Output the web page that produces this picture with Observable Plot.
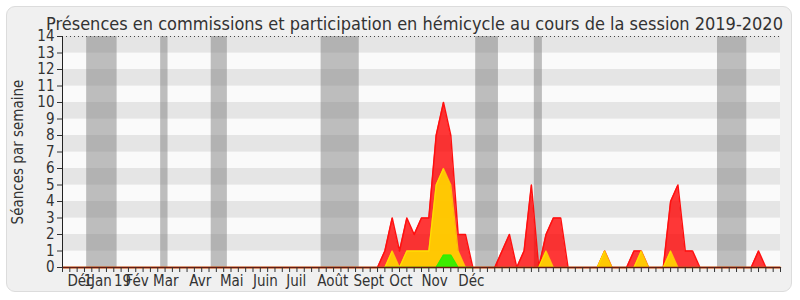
<!DOCTYPE html>
<html><head><meta charset="utf-8">
<script src="https://cdn.jsdelivr.net/npm/d3@7"></script>
<script src="https://cdn.jsdelivr.net/npm/@observablehq/plot@0.6"></script>
<style>
body{margin:0;background:#fff;}
#wrap{position:relative;width:800px;height:300px;}
#panel{position:absolute;left:6px;top:6px;width:786px;height:286px;background:#f0f0f0;border:1px solid #dcdcdc;border-radius:9px;box-sizing:border-box;}
#chart{position:absolute;left:0;top:0;}
</style></head><body>
<div id="wrap"><div id="panel"></div><div id="chart"></div></div>
<script>
const title = "Présences en commissions et participation en hémicycle au cours de la session 2019-2020";
const yLabel = "Séances par semaine";

// week index 0..98
const weeks = d3.range(0, 99);
const totalSeances = [
  0,0,0,0,0,0,0,0,0,0,
  0,0,0,0,0,0,0,0,0,0,
  0,0,0,0,0,0,0,0,0,0,
  0,0,0,0,0,0,0,0,0,0,
  0,0,0,0,1,3,1,3,2,3,
  3,8,10,8,2,2,0,0,0,0,
  1,2,0,1,5,0,2,3,3,0,
  0,0,0,0,1,0,0,0,1,1,
  0,0,0,4,5,1,1,0,0,0,
  0,0,0,0,0,1,0,0,0
];
const hemicycle = [
  0,0,0,0,0,0,0,0,0,0,
  0,0,0,0,0,0,0,0,0,0,
  0,0,0,0,0,0,0,0,0,0,
  0,0,0,0,0,0,0,0,0,0,
  0,0,0,0,0,1,0,1,1,1,
  1,5,6,5,1,0,0,0,0,0,
  0,0,0,0,0,0,1,0,0,0,
  0,0,0,0,1,0,0,0,0,1,
  0,0,0,1,0,0,0,0,0,0,
  0,0,0,0,0,0,0,0,0
];
const commissions = [
  0,0,0,0,0,0,0,0,0,0,
  0,0,0,0,0,0,0,0,0,0,
  0,0,0,0,0,0,0,0,0,0,
  0,0,0,0,0,0,0,0,0,0,
  0,0,0,0,0,0,0,0,0,0,
  0,0,0.75,0.75,0,0,0,0,0,0,
  0,0,0,0,0,0,0,0,0,0,
  0,0,0,0,0,0,0,0,0,0,
  0,0,0,0,0,0,0,0,0,0,
  0,0,0,0,0,0,0,0,0
];
const vacationStart = [3.3, 13.4, 20.3, 35.3, 56.4, 64.4, 89.4];
const vacationEnd   = [7.45, 14.4, 22.5, 40.5, 59.5, 65.5, 93.4];
const monthLabels = ["Déc","1","Jan","19","Fév","Mar","Avr","Mai","Juin","Juil","Août","Sept","Oct","Nov","Déc"];
const monthPos    = [2.45, 3.5, 5.3, 8.2, 10.2, 14.1, 18.8, 23.1, 27.7, 31.9, 36.9, 41.8, 46.2, 50.8, 55.8];
const yTicks = d3.range(0, 15);

const data = weeks.map((w, i) => ({week: w, total: totalSeances[i], hemi: hemicycle[i], comm: commissions[i]}));
const stripes = yTicks.slice(0, -1).map(k => ({y1: k, y2: k + 1, dark: k % 2 === 1}));
const vacations = vacationStart.map((s, i) => ({x1: s, x2: vacationEnd[i]}));
const labels = monthLabels.map((t, i) => ({t, x: monthPos[i]}));
const xMax = weeks[weeks.length - 1];
const commData = data.filter(d => d.week >= 44 && d.week <= 56);

const chart = Plot.plot({
  width: 800, height: 300,
  marginLeft: 62, marginRight: 20, marginTop: 36, marginBottom: 33,
  style: {fontFamily: "'DejaVu Sans Condensed', 'DejaVu Sans', sans-serif", fontSize: "13px", color: "#333", background: "transparent"},
  x: {domain: [0, xMax]},
  y: {domain: [0, 14]},
  marks: [
    Plot.rect(stripes, {x1: 0, x2: xMax, y1: "y1", y2: "y2", fill: d => d.dark ? "#e5e5e5" : "#fafafa"}),
    Plot.rect(vacations, {x1: "x1", x2: "x2", y1: 0, y2: 14, fill: "#808080", fillOpacity: 0.5}),
    Plot.ruleY([14], {stroke: "#444", strokeDasharray: "1,3"}),
    Plot.areaY(data, {x: "week", y: "total", fill: "#ff0000", fillOpacity: 0.78}),
    Plot.lineY(data, {x: "week", y: "total", stroke: "#ff1010", strokeWidth: 1.5}),
    Plot.areaY(data, {x: "week", y: "hemi", fill: "#ffd000", fillOpacity: 0.95}),
    Plot.lineY(data, {x: "week", y: "hemi", stroke: "#ffe600", strokeWidth: 1.3, strokeOpacity: 0.75}),
    Plot.areaY(commData, {x: "week", y: "comm", fill: "#33ee00", fillOpacity: 0.95}),
    Plot.lineY(commData, {x: "week", y: "comm", stroke: "#2ef000", strokeWidth: 1.3}),
    Plot.ruleY([0], {stroke: "#6a1810", strokeWidth: 1.6}),
    Plot.ruleX([0], {stroke: "#222"}),
    Plot.axisY({ticks: yTicks, tickSize: 5, tickPadding: 3, label: null, fontSize: 15}),
    Plot.axisX({ticks: weeks, tickSize: 5, tickFormat: () => "", label: null}),
    Plot.text(labels, {x: "x", y: 0, dy: 14, text: "t", fontSize: 15, fill: "#333"}),
    Plot.text([yLabel], {frameAnchor: "left", textAnchor: "middle", dx: -44, rotate: -90, fontSize: 15, fill: "#333"}),
    Plot.text([title], {frameAnchor: "top", dy: -19, dx: -7, fontSize: 18, fill: "#333"})
  ]
});
document.getElementById("chart").appendChild(chart);
</script>
</body></html>
